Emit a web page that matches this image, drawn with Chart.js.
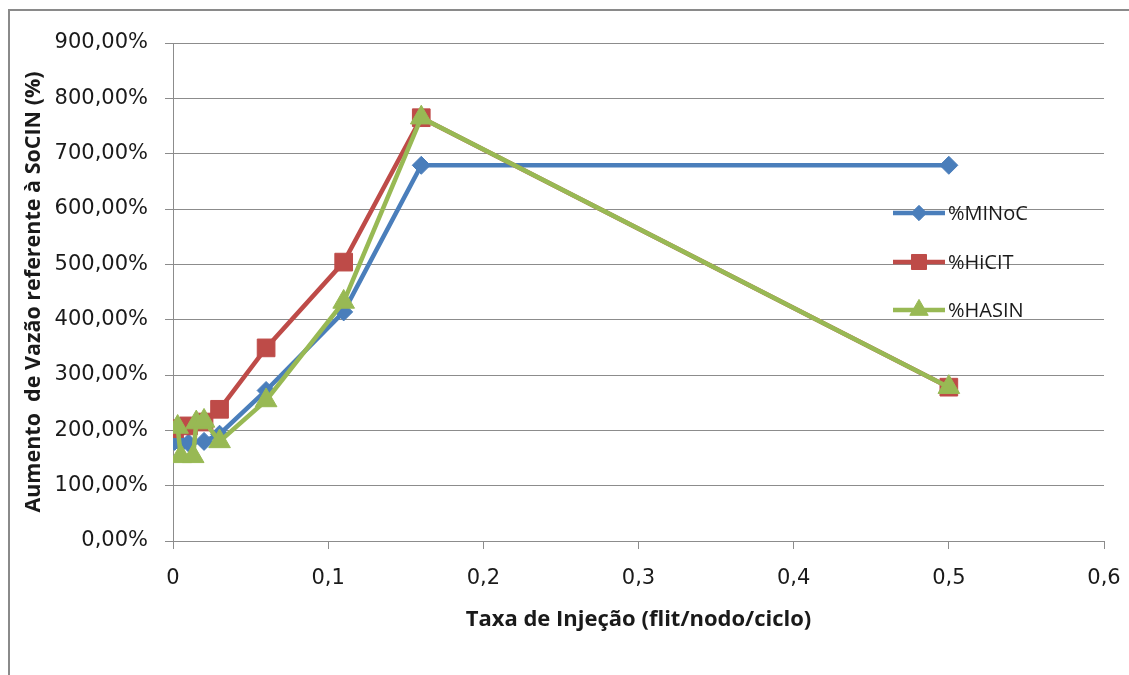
<!DOCTYPE html>
<html>
<head>
<meta charset="utf-8">
<script src="https://cdn.jsdelivr.net/npm/chart.js@4.4.1/dist/chart.umd.min.js"></script>
<style>
  html, body { margin: 0; padding: 0; background: #fff; }
  #wrap { width: 1129px; height: 675px; position: relative; }
</style>
</head>
<body>
<div id="wrap"><canvas id="c" width="1129" height="675"></canvas></div>
<script>
// Injection rate (flit/node/cycle) and throughput increase relative to SoCIN (%)
const xMINoC = [0.001, 0.005, 0.01, 0.02, 0.03, 0.06, 0.11, 0.16, 0.5];
const yMINoC = [180, 176, 177, 180, 193, 272, 414, 679, 679];

const xHiCIT = [0.001, 0.01, 0.02, 0.03, 0.06, 0.11, 0.16, 0.5];
const yHiCIT = [203, 208, 215, 238, 349, 504, 765, 278];

const xHASIN = [0.003, 0.005, 0.013, 0.015, 0.02, 0.03, 0.06, 0.11, 0.16, 0.5];
const yHASIN = [206, 153, 153, 214, 217, 180, 254, 432, 765, 278];

const seriesNames = ['%MINoC', '%HiCIT', '%HASIN'];
const xTicks = [0, 0.1, 0.2, 0.3, 0.4, 0.5, 0.6];
const yTicks = [0, 100, 200, 300, 400, 500, 600, 700, 800, 900];

const GRID = '#8c8c8c';
const TEXT = '#1a1a1a';

function pts(xs, ys) { return xs.map((x, i) => ({ x: x, y: ys[i] })); }

const datasets = [
  { label: seriesNames[0], data: pts(xMINoC, yMINoC), borderColor: '#4a7ebb', backgroundColor: '#4a7ebb',
    pointStyle: 'rectRot', pointRadius: 9, order: 3 },
  { label: seriesNames[1], data: pts(xHiCIT, yHiCIT), borderColor: '#be4b48', backgroundColor: '#be4b48',
    pointStyle: 'rect', pointRadius: 12.5, order: 2 },
  { label: seriesNames[2], data: pts(xHASIN, yHASIN), borderColor: '#98b954', backgroundColor: '#98b954',
    pointStyle: 'triangle', pointRadius: 12.5, order: 1 }
];
datasets.forEach(d => {
  d.showLine = true; d.borderWidth = 4.5; d.tension = 0;
  d.pointBorderWidth = 1;
  d.pointBackgroundColor = d.backgroundColor; d.pointBorderColor = d.borderColor;
  d.pointHoverRadius = d.pointRadius;
});

// white page with the grey chart frame
const framePlugin = {
  id: 'frame',
  beforeDraw(chart) {
    const ctx = chart.ctx;
    ctx.save();
    ctx.fillStyle = '#fff';
    ctx.fillRect(0, 0, chart.width, chart.height);
    ctx.strokeStyle = '#8a8a8a';
    ctx.lineWidth = 2;
    ctx.beginPath();
    ctx.moveTo(1140, 10);
    ctx.lineTo(9, 10);
    ctx.lineTo(9, 690);
    ctx.stroke();
    ctx.restore();
  }
};

// legend drawn inside the plot, on the right
const legendPlugin = {
  id: 'insideLegend',
  afterDatasetsDraw(chart) {
    const ctx = chart.ctx;
    const x0 = 893, x1 = 945, tx = 948;
    const ys = [213, 262, 310];
    chart.data.datasets.forEach((d, i) => {
      const y = ys[i];
      ctx.save();
      ctx.strokeStyle = d.borderColor;
      ctx.lineWidth = d.borderWidth;
      ctx.beginPath();
      ctx.moveTo(x0, y);
      ctx.lineTo(x1, y);
      ctx.stroke();
      ctx.fillStyle = d.backgroundColor;
      ctx.strokeStyle = d.borderColor;
      ctx.lineWidth = 1;
      Chart.helpers.drawPoint(ctx, { pointStyle: d.pointStyle, radius: d.pointRadius * 0.85, borderWidth: 1, rotation: 0 }, (x0 + x1) / 2, y);
      ctx.fillStyle = TEXT;
      ctx.font = '20px "Open Sans"';
      ctx.textBaseline = 'middle';
      ctx.textAlign = 'left';
      ctx.fillText(d.label, tx, y + 1);
      ctx.restore();
    });
  }
};

new Chart(document.getElementById('c'), {
  type: 'line',
  data: { datasets: datasets },
  plugins: [framePlugin, legendPlugin],
  options: {
    responsive: false,
    animation: false,
    layout: { padding: { left: 18, top: 43, right: 25, bottom: 36 } },
    plugins: { legend: { display: false }, tooltip: { enabled: false } },
    scales: {
      x: {
        type: 'linear', min: 0, max: 0.6,
        afterBuildTicks(s) { s.ticks = xTicks.map(v => ({ value: v })); },
        afterFit(s) { s.height = 675 - 36 - 541; s.paddingLeft = 0; s.paddingRight = 0; },
        ticks: {
          color: TEXT, padding: 17, maxRotation: 0,
          font: { family: 'DejaVu Sans', size: 21 },
          callback: v => v === 0 ? '0' : v.toFixed(1).replace('.', ',')
        },
        grid: { display: true, drawOnChartArea: false, drawTicks: true, tickLength: 8, color: GRID, lineWidth: 1 },
        border: { display: true, color: GRID, width: 1 },
        title: {
          display: true, text: 'Taxa de Injeção (flit/nodo/ciclo)', color: TEXT,
          font: { family: 'Open Sans', size: 22, weight: 'bold' }, padding: { top: 0, bottom: 6 }
        }
      },
      y: {
        type: 'linear', min: 0, max: 900,
        afterBuildTicks(s) { s.ticks = yTicks.map(v => ({ value: v })); },
        afterFit(s) { s.width = 173 - 18; s.paddingTop = 0; s.paddingBottom = 0; },
        ticks: {
          color: TEXT, padding: 17,
          font: { family: 'DejaVu Sans', size: 21 },
          callback: v => v.toFixed(2).replace('.', ',') + '%'
        },
        grid: { color: GRID, lineWidth: 1, drawTicks: true, tickLength: 8 },
        border: { display: true, color: GRID, width: 1 },
        title: {
          display: true, text: 'Aumento  de Vazão referente à SoCIN (%)', color: TEXT,
          font: { family: 'Open Sans', size: 21.5, weight: 'bold' }, padding: { top: 3, bottom: 0 }
        }
      }
    }
  }
});
</script>
</body>
</html>
